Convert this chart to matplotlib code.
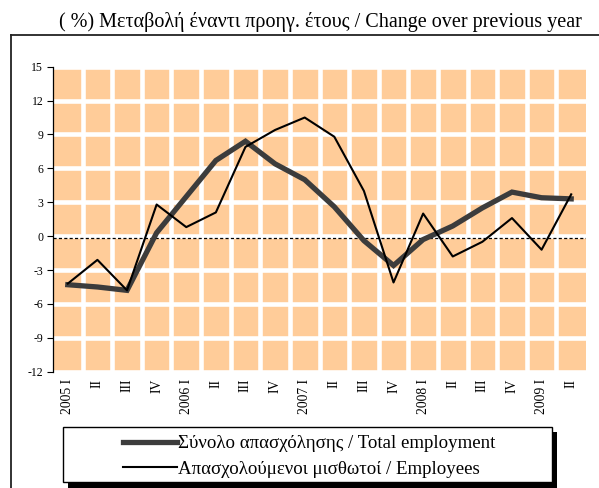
import matplotlib.pyplot as plt
from matplotlib.lines import Line2D
from matplotlib.patches import Rectangle

plt.rcParams['font.family'] = ['Liberation Serif', 'DejaVu Serif']
plt.rcParams['axes.unicode_minus'] = False

quarters = ['2005 I', 'II', 'III', 'IV',
            '2006 I', 'II', 'III', 'IV',
            '2007 I', 'II', 'III', 'IV',
            '2008 I', 'II', 'III', 'IV',
            '2009 I', 'II']
total_employment = [-4.3, -4.5, -4.8, 0.3, 3.5, 6.7, 8.4, 6.4, 5.0, 2.6,
                    -0.4, -2.6, -0.3, 0.9, 2.5, 3.9, 3.4, 3.3]
employees = [-4.2, -2.1, -4.8, 2.8, 0.8, 2.1, 7.9, 9.4, 10.5, 8.8,
             4.0, -4.1, 2.0, -1.8, -0.5, 1.6, -1.2, 3.7]
ref_level = -0.2

W, H = 599, 488
fig = plt.figure(figsize=(W / 100, H / 100), dpi=100)
ax = fig.add_axes([53 / W, 1 - 371.7 / H, (586 - 53) / W, (371.7 - 66.7) / H])

x = list(range(len(quarters)))
ax.set_facecolor('#FFCC99')
for b in range(len(quarters) - 1):
    ax.axvline(b + 0.5, color='white', lw=3.3, zorder=1)
for yv in range(-12, 16, 3):
    ax.axhline(yv, color='white', lw=3.3, zorder=1)
ax.axhline(ref_level, color='black', lw=0.9, ls=(0, (2.5, 1.8)), zorder=2)

ax.plot(x, total_employment, color='#3c3c3c', lw=3.8, zorder=3,
        solid_joinstyle='miter')
ax.plot(x, employees, color='black', lw=1.5, zorder=4)

ax.set_xlim(-0.5, len(quarters) - 0.5)
ax.set_ylim(-12, 15)
ax.set_yticks(range(-12, 16, 3))
ax.tick_params(axis='y', labelsize=8.5, length=4, width=0.8, pad=3, direction='out')
ax.set_xticks(x)
ax.set_xticklabels(quarters, rotation=90, fontsize=9.8, va='top', ha='center')
ax.tick_params(axis='x', length=0, pad=5)
for s in ['top', 'right', 'bottom']:
    ax.spines[s].set_visible(False)
ax.spines['left'].set_linewidth(0.9)

fig.text(0.5 * (58 + 582) / W, 1 - 22 / H,
         '( %) Μεταβολή έναντι προηγ. έτους / Change over previous year',
         ha='center', va='center', fontsize=14.5)

# outer frame (top and left edges)
fig.add_artist(Line2D([11 / W, 1], [1 - 35 / H, 1 - 35 / H], color='#222222', lw=1.3))
fig.add_artist(Line2D([11 / W, 11 / W], [0, 1 - 35 / H], color='#222222', lw=1.3))

# legend box with black shadow
fig.add_artist(Rectangle((68 / W, 1 - 488 / H), (557 - 68) / W, (488 - 432) / H,
                         transform=fig.transFigure, facecolor='black', edgecolor='none'))
fig.add_artist(Rectangle((63 / W, 1 - 482 / H), (552 - 63) / W, (482 - 427) / H,
                         transform=fig.transFigure, facecolor='white',
                         edgecolor='black', lw=1.0))
handles = [Line2D([], [], color='#3c3c3c', lw=3.8),
           Line2D([], [], color='black', lw=1.5)]
labels = ['Σύνολο απασχόλησης / Total employment',
          'Απασχολούμενοι μισθωτοί / Employees']
fig.legend(handles, labels, loc='upper left', bbox_to_anchor=(123 / W, 1 - 435 / H),
           frameon=False, fontsize=13.6, handlelength=2.86, handletextpad=0.05,
           labelspacing=0.43, borderpad=0, borderaxespad=0)

fig.savefig('out.png', dpi=100)
